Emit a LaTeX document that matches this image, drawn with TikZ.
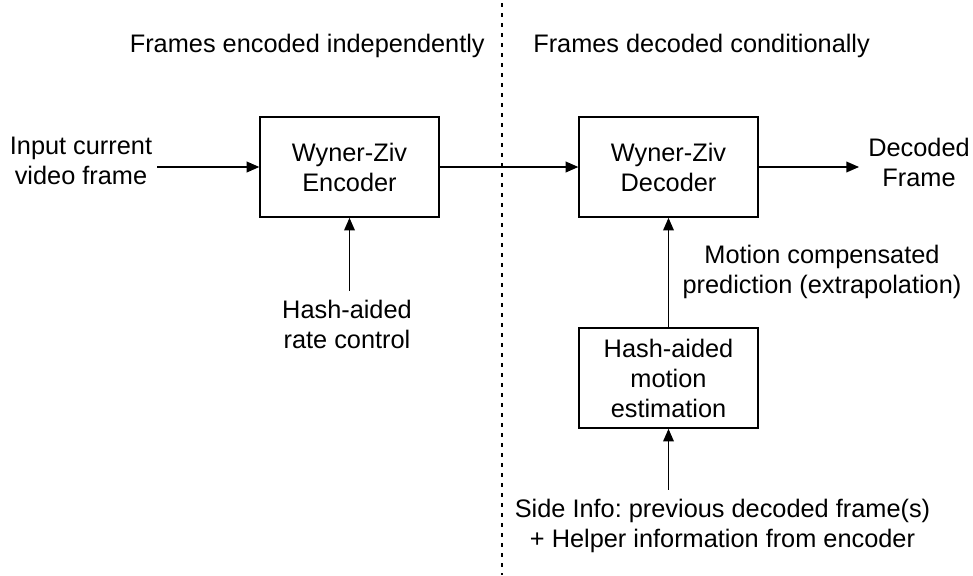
\documentclass[tikz,border=0pt]{standalone}
\usepackage{fontspec}
\setmainfont{Liberation Sans}
\usetikzlibrary{arrows.meta}
\frenchspacing
\begin{document}
\begin{tikzpicture}[x=0.75pt,y=-0.75pt,
  lbl/.style={inner sep=0pt, align=center, font=\fontsize{19}{22.5}\selectfont},
  blk/.style={draw, line width=1.2pt, minimum width=134pt, minimum height=75pt, inner sep=0pt, align=center, font=\fontsize{19}{22.5}\selectfont},
  arr/.style={line width=1.1pt, -{Triangle[length=9.5pt,width=8pt]}},
  divider/.style={line width=0.85pt, dash pattern=on 3.2pt off 4.3pt}]
\useasboundingbox (0,0) rectangle (973,575);
% divider
\coordinate (divtop) at (502,3);
\coordinate (divbot) at (502,575);
\draw[divider] (divtop) -- (divbot);
% headings
\node[lbl, anchor=base east] (hl) at (485,52) {Frames encoded independently};
\node[lbl, anchor=base west] (hr) at (533,52) {Frames decoded conditionally};
% blocks
\node[blk] (enc) at (349.5,167) {Wyner-Ziv\\Encoder};
\node[blk] (dec) at (668.5,167) {Wyner-Ziv\\Decoder};
\node[blk] (me) at (668.5,378) {Hash-aided\\motion\\estimation};
% labels
\node[lbl] (input) at (81,161) {Input current\\video frame};
\node[lbl] (decoded) at (919,162.75) {Decoded\\Frame};
\node[lbl] (rate) at (347,324.75) {Hash-aided\\rate control};
\node[lbl] (mcp) at (822,272.4) {Motion compensated\\prediction (extrapolation)};
\node[lbl] (side) at (722.5,525.9) {Side Info: previous decoded frame(s)\\+ Helper information from encoder};
% connectors
\draw[arr, shorten <=3.75pt] (input.east |- enc.west) -- (enc.west);
\draw[arr] (enc.east) -- (dec.west);
\draw[arr, shorten >=6.75pt] (dec.east) -- (decoded.west |- dec.east);
\draw[arr, shorten <=7pt] (enc.south |- rate.north) -- (enc.south);
\draw[arr] (me.north) -- (dec.south);
\draw[arr, shorten <=7pt] (me.south |- side.north) -- (me.south);
\end{tikzpicture}
\end{document}
